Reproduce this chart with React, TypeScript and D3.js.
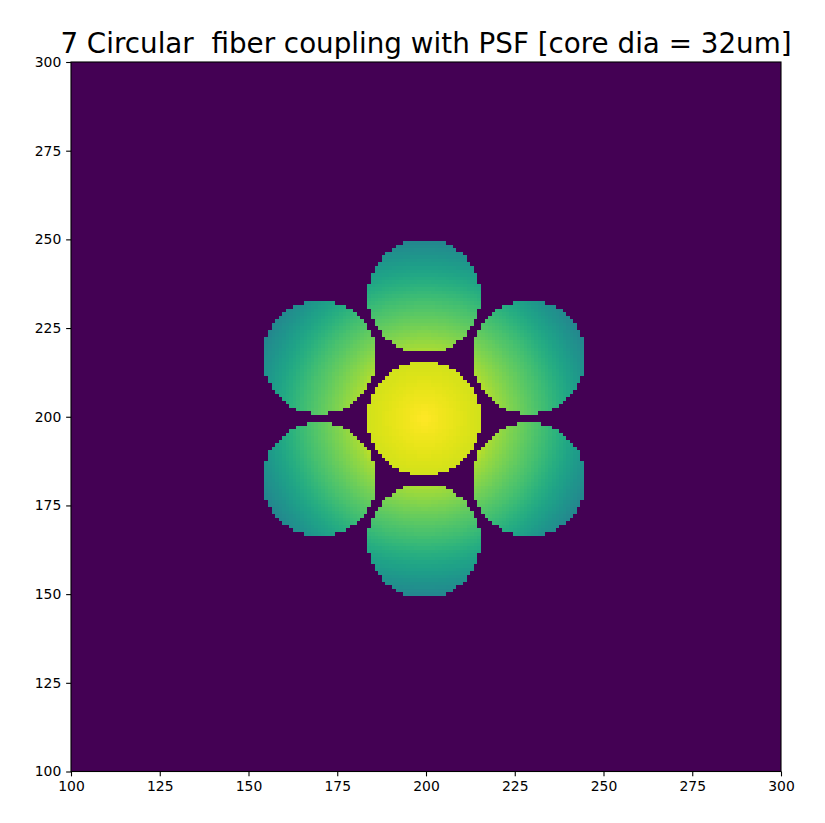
import React, { useEffect, useRef } from "react";
import * as d3 from "d3";

// fibre bundle: centre core plus six around it, positions
const fiberX = [199.5, 199.5, 199.5, 229, 229, 170, 170];
const fiberY = [199.5, 234, 165, 216.8, 182.3, 216.8, 182.3];
const coreDiameter = 32;

// PSF level, by distance from the bundle centre
const psfRadius = [0, 16, 20, 34, 48, 50];
const psfLevel = [1.0, 0.93, 0.86, 0.69, 0.49, 0.46];

// axis range (one cell per um, cell centres on whole numbers) and ticks
const extent = [100, 300];
const tickValues = [100, 125, 150, 175, 200, 225, 250, 275, 300];

const title = "7 Circular  fiber coupling with PSF [core dia = 32um]";

const App = () => {
  const svgRef = useRef<SVGSVGElement>(null);
  const width = 825;
  const height = 823;
  const margin = { top: 62, right: 44, bottom: 51.5, left: 71 };

  useEffect(() => {
    const svgEl = d3.select(svgRef.current);
    svgEl.selectAll("*").remove();

    const x = d3
      .scaleLinear()
      .domain(extent)
      .range([margin.left, width - margin.right]);

    const y = d3
      .scaleLinear()
      .domain(extent)
      .range([height - margin.bottom, margin.top]);

    const level = d3.scaleLinear().domain(psfRadius).range(psfLevel).clamp(true);
    const color = d3.scaleSequential(d3.interpolateViridis).domain([0, 1]);

    const cells: { i: number; j: number; v: number }[] = [];
    for (let i = extent[0]; i <= extent[1]; i++) {
      for (let j = extent[0]; j <= extent[1]; j++) {
        const inside = fiberX.some(
          (fx, k) => Math.hypot(i - fx, j - fiberY[k]) < coreDiameter / 2
        );
        if (!inside) continue;
        const r = Math.hypot(i - fiberX[0], j - fiberY[0]);
        cells.push({ i, j, v: level(r) });
      }
    }

    // cells outside the cores are zero
    svgEl
      .append("rect")
      .attr("x", x(extent[0]))
      .attr("y", y(extent[1]))
      .attr("width", x(extent[1]) - x(extent[0]))
      .attr("height", y(extent[0]) - y(extent[1]))
      .attr("fill", color(0));

    svgEl
      .append("g")
      .attr("class", "cells")
      .attr("shape-rendering", "crispEdges")
      .selectAll("rect")
      .data(cells)
      .join("rect")
      .attr("x", (d) => x(d.i - 0.5))
      .attr("y", (d) => y(d.j + 0.5))
      .attr("width", (d) => x(d.i + 0.5) - x(d.i - 0.5))
      .attr("height", (d) => y(d.j - 0.5) - y(d.j + 0.5))
      .attr("fill", (d) => color(d.v));

    const tick = 4.86;

    const xAxis = (g) =>
      g
        .attr("transform", `translate(0,${height - margin.bottom})`)
        .call(d3.axisBottom(x).tickValues(tickValues).tickSize(tick).tickPadding(tick))
        .call((g) => g.select(".domain").remove());

    const yAxis = (g) =>
      g
        .attr("transform", `translate(${margin.left},0)`)
        .call(d3.axisLeft(y).tickValues(tickValues).tickSize(tick).tickPadding(tick))
        .call((g) => g.select(".domain").remove());

    svgEl.append("g").attr("class", "x-axis").call(xAxis);
    svgEl.append("g").attr("class", "y-axis").call(yAxis);

    svgEl
      .selectAll(".x-axis, .y-axis")
      .attr("font-family", "DejaVu Sans")
      .attr("font-size", 13.9);
    svgEl.selectAll(".tick line").attr("stroke", "#000").attr("stroke-width", 1.1);
    svgEl.selectAll(".tick text").attr("fill", "#000");

    svgEl
      .append("rect")
      .attr("x", x(extent[0]))
      .attr("y", y(extent[1]))
      .attr("width", x(extent[1]) - x(extent[0]))
      .attr("height", y(extent[0]) - y(extent[1]))
      .attr("fill", "none")
      .attr("stroke", "#000")
      .attr("stroke-width", 1.1);

    svgEl
      .append("text")
      .attr("x", (x(extent[0]) + x(extent[1])) / 2)
      .attr("y", 53)
      .attr("text-anchor", "middle")
      .attr("font-family", "DejaVu Sans")
      .attr("font-size", 27.78)
      .attr("fill", "#000")
      .style("white-space", "pre")
      .text(title);
  }, []);

  return (
    <svg
      ref={svgRef}
      width={width}
      height={height}
      style={{ position: "absolute", left: 0, top: 0, background: "#fff" }}
    />
  );
};

export default App;
